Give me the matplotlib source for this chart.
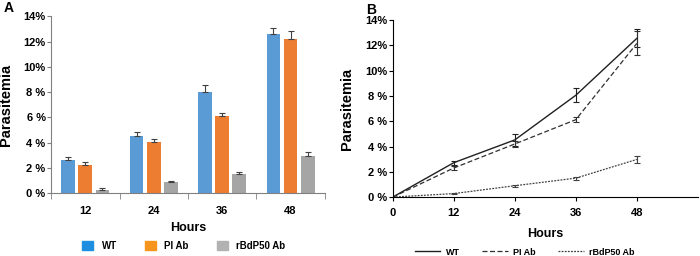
import numpy as np
import matplotlib.pyplot as plt
from matplotlib.patches import Patch
from matplotlib.lines import Line2D

plt.rcParams['font.family'] = ['Liberation Sans', 'DejaVu Sans']
plt.rcParams['font.weight'] = 'bold'

hours = [12, 24, 36, 48]
series = ['WT', 'PI Ab', 'rBdP50 Ab']

# panel A (bars)
wt_a = [2.65, 4.48, 7.99, 12.62]
wt_a_err = [0.19, 0.37, 0.59, 0.42]
pi_a = [2.2, 4.07, 6.09, 12.2]
pi_a_err = [0.24, 0.25, 0.24, 0.64]
rb_a = [0.24, 0.86, 1.47, 2.95]
rb_a_err = [0.14, 0.08, 0.16, 0.32]

# panel B (lines, starting at 0 h)
hours_b = [0, 12, 24, 36, 48]
wt_b = [0, 2.72, 4.52, 8.05, 12.55]
wt_b_err = [0, 0.16, 0.45, 0.57, 0.7]
pi_b = [0, 2.3, 4.2, 6.12, 12.15]
pi_b_err = [0, 0.16, 0.22, 0.2, 0.95]
rb_b = [0, 0.28, 0.9, 1.5, 2.98]
rb_b_err = [0, 0.07, 0.08, 0.12, 0.25]

yticks = [0, 2, 4, 6, 8, 10, 12, 14]
ylabels = ['0 %', '2 %', '4 %', '6 %', '8 %', '10%', '12%', '14%']

bar_cols = ['#5B9BD5', '#ED7D31', '#A5A5A5']
leg_cols = ['#1E8FE0', '#F7941D', '#B2B2B2']

fig = plt.figure(figsize=(7, 2.56), dpi=100)

# ---- A ----
ax = fig.add_axes([0.073, 0.246, 0.391, 0.69])
x = np.arange(len(hours))
vals = [wt_a, pi_a, rb_a]
errs = [wt_a_err, pi_a_err, rb_a_err]
for i in range(3):
    ax.bar(x + (i - 1) * 0.25, vals[i], 0.2, color=bar_cols[i],
           yerr=[np.zeros(4), errs[i]], ecolor='#404040',
           error_kw=dict(elinewidth=0.8, capsize=2.5, capthick=0.8))
ax.set_xlim(-0.5, 3.5)
ax.set_ylim(0, 14)
ax.set_yticks(yticks)
ax.set_yticklabels(ylabels)
ax.set_xticks(x)
ax.set_xticklabels([str(h) for h in hours])
ax.set_xticks(np.arange(-0.5, 4, 1), minor=True)
ax.tick_params(axis='x', which='major', length=0, pad=9, labelsize=8)
ax.tick_params(axis='x', which='minor', length=4, color='#808080')
ax.tick_params(axis='y', length=3, color='#808080', labelsize=8, pad=1)
for s in ['top', 'right']:
    ax.spines[s].set_visible(False)
for s in ['left', 'bottom']:
    ax.spines[s].set_color('#808080')
ax.set_xlabel('Hours', fontsize=9, fontweight='bold')
ax.set_ylabel('Parasitemia', fontsize=10.5, fontweight='bold')
ax.xaxis.set_label_coords(0.5, -0.165)
ax.yaxis.set_label_coords(-0.14, 0.5)
handles = [Patch(color=c) for c in leg_cols]
ax.legend(handles, series, loc='center', bbox_to_anchor=(0.485, -0.3),
          ncol=3, frameon=False, fontsize=7, handlelength=1.1,
          handleheight=1.1, handletextpad=0.9, columnspacing=2.9)
fig.text(0.005, 0.97, 'A', fontsize=10, fontweight='bold', va='center')

# ---- B ----
bx = fig.add_axes([0.561, 0.23, 0.436, 0.692])
styles = [('-', '#202020', 1.0), ((0, (4, 2)), '#303030', 0.9), ((0, (1.5, 1)), '#404040', 0.9)]
bvals = [wt_b, pi_b, rb_b]
berrs = [wt_b_err, pi_b_err, rb_b_err]
for i in range(3):
    ls, c, lw = styles[i]
    bx.errorbar(hours_b, bvals[i], yerr=berrs[i], color=c, ls=ls, lw=lw,
                elinewidth=0.8, capsize=2.5, capthick=0.8)
bx.set_xlim(0, 60)
bx.set_ylim(0, 14)
bx.set_xticks(hours_b)
bx.set_yticks(yticks)
bx.set_yticklabels(ylabels)
bx.tick_params(axis='x', length=3, labelsize=8, pad=5)
bx.tick_params(axis='y', length=3, labelsize=8, pad=1)
for s in ['top', 'right']:
    bx.spines[s].set_visible(False)
bx.set_xlabel('Hours', fontsize=9, fontweight='bold')
bx.set_ylabel('Parasitemia', fontsize=10.5, fontweight='bold')
bx.xaxis.set_label_coords(0.5, -0.175)
bx.yaxis.set_label_coords(-0.128, 0.5)
lh = [Line2D([], [], ls=s[0], color=s[1], lw=s[2]) for s in styles]
bx.legend(lh, series, loc='center', bbox_to_anchor=(0.433, -0.31),
          ncol=3, frameon=False, fontsize=6.5, handlelength=2.8,
          handletextpad=0.6, columnspacing=2.5)
fig.text(0.523, 0.96, 'B', fontsize=10, fontweight='bold', va='center')

fig.savefig('out.png', dpi=100)
